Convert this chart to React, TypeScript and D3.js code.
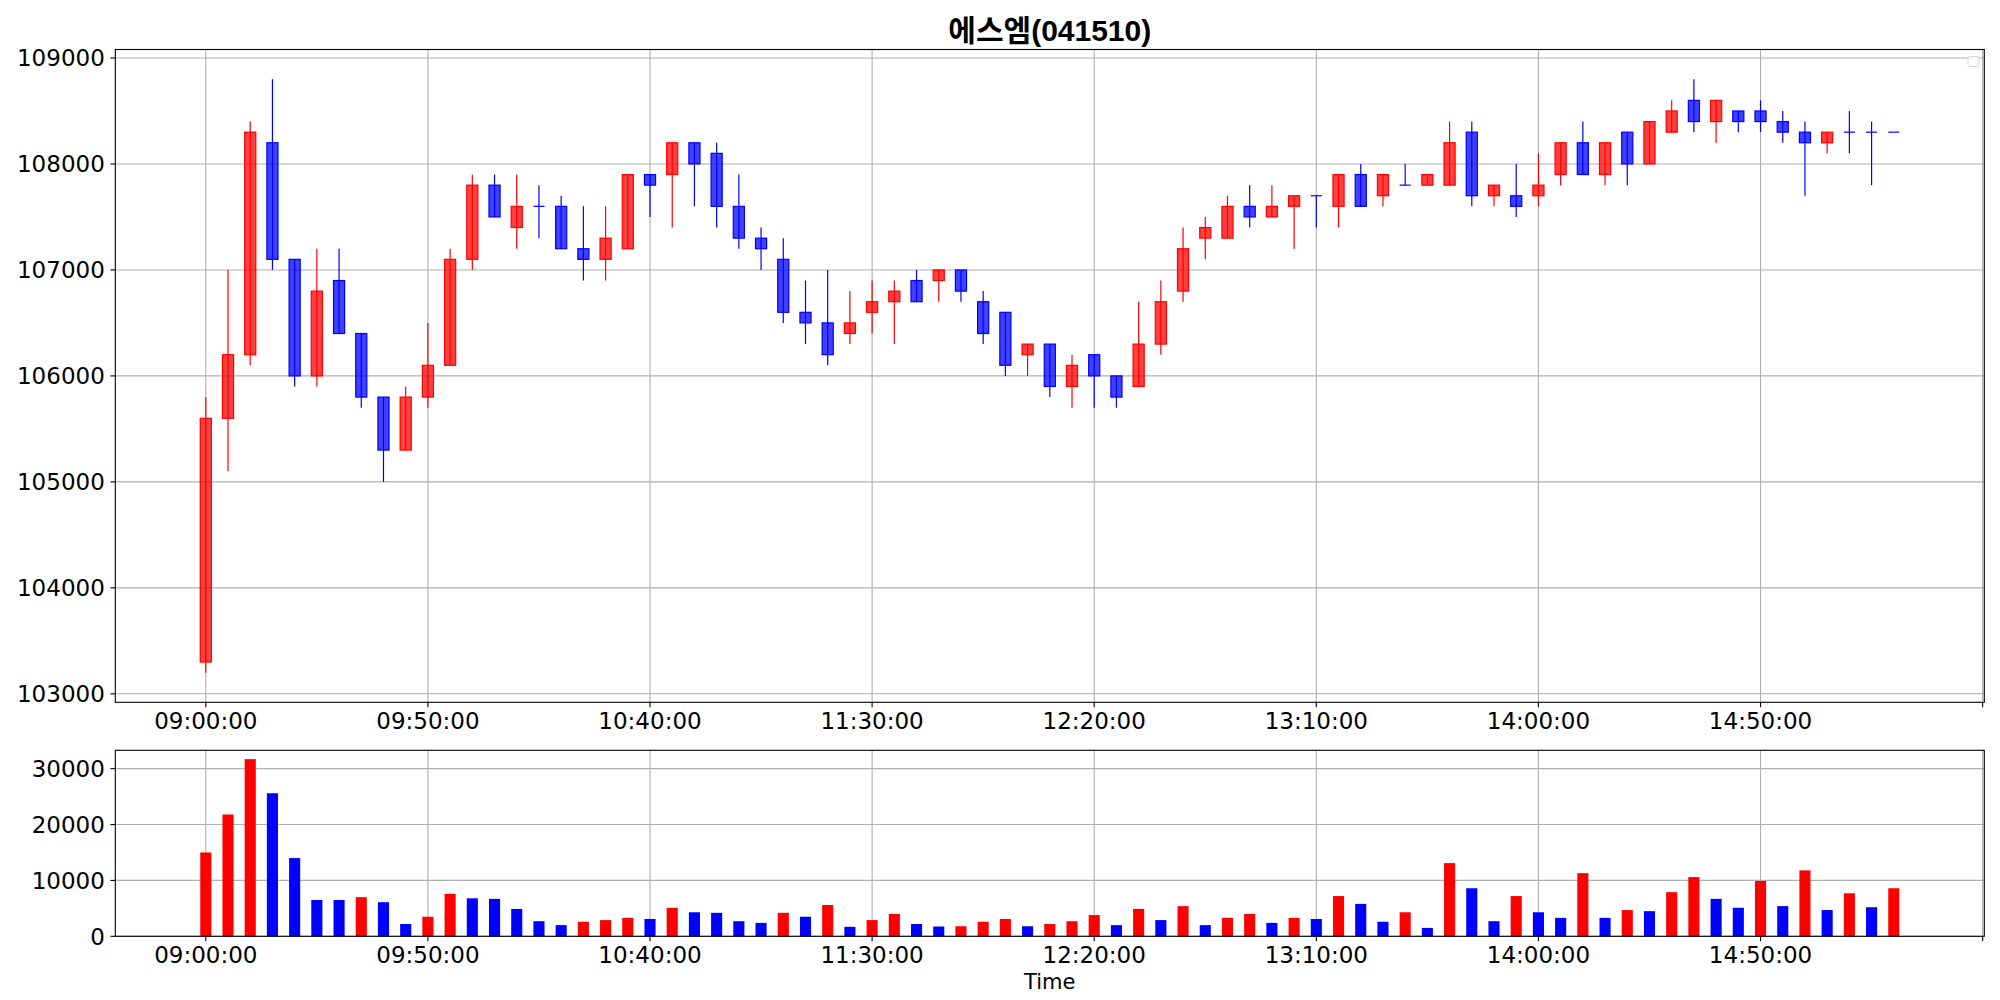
import React from 'react';
import * as d3 from 'd3';

const title = '에스엠(041510)';
const xLabel = 'Time';

const times = [
  '09:00','09:05','09:10','09:15','09:20','09:25','09:30','09:35','09:40','09:45',
  '09:50','09:55','10:00','10:05','10:10','10:15','10:20','10:25','10:30','10:35',
  '10:40','10:45','10:50','10:55','11:00','11:05','11:10','11:15','11:20','11:25',
  '11:30','11:35','11:40','11:45','11:50','11:55','12:00','12:05','12:10','12:15',
  '12:20','12:25','12:30','12:35','12:40','12:45','12:50','12:55','13:00','13:05',
  '13:10','13:15','13:20','13:25','13:30','13:35','13:40','13:45','13:50','13:55',
  '14:00','14:05','14:10','14:15','14:20','14:25','14:30','14:35','14:40','14:45',
  '14:50','14:55','15:00','15:05','15:10','15:15','15:20',
];

const opens = [
  103300,105600,106200,108200,107100,106000,106900,106400,105800,105300,
  105800,106100,107100,107800,107400,107600,107600,107200,107100,107200,
  107900,107900,108200,108100,107600,107300,107100,106600,106500,106400,
  106600,106700,106900,106900,107000,106700,106600,106200,106300,105900,
  106200,106000,105900,106300,106800,107300,107300,107600,107500,107600,
  107700,107600,107900,107700,107800,107800,107800,108300,107700,107700,
  107700,107900,108200,107900,108300,108000,108300,108600,108400,108500,
  108500,108400,108300,108200,108300,108300,108300,
];
const highs = [
  105800,107000,108400,108800,107100,107200,107200,106400,105800,105900,
  106500,107200,107900,107900,107900,107800,107700,107600,107600,107900,
  107900,108200,108200,108200,107900,107400,107300,106900,107000,106800,
  106900,106900,107000,107000,107000,106800,106600,106300,106300,106200,
  106200,106000,106700,106900,107400,107500,107700,107800,107800,107700,
  107700,107900,108000,107900,108000,107900,108400,108400,107800,108000,
  108100,108200,108400,108200,108300,108400,108600,108800,108600,108500,
  108600,108500,108400,108300,108500,108400,108300,
];
const lows = [
  103200,105100,106100,107000,105900,105900,106400,105700,105000,105300,
  105700,106100,107000,107500,107200,107300,107200,106900,106900,107200,
  107500,107400,107600,107400,107200,107000,106500,106300,106100,106300,
  106400,106300,106700,106700,106700,106300,106000,106000,105800,105700,
  105700,105700,105900,106200,106700,107100,107300,107400,107500,107200,
  107400,107400,107600,107600,107800,107800,107800,107600,107600,107500,
  107600,107800,107900,107800,107800,108000,108300,108300,108200,108300,
  108300,108200,107700,108100,108100,107800,108300,
];
const closes = [
  105600,106200,108300,107100,106000,106800,106400,105800,105300,105800,
  106100,107100,107800,107500,107600,107600,107200,107100,107300,107900,
  107800,108200,108000,107600,107300,107200,106600,106500,106200,106500,
  106700,106800,106700,107000,106800,106400,106100,106300,105900,106100,
  106000,105800,106300,106700,107200,107400,107600,107500,107600,107700,
  107700,107900,107600,107900,107800,107900,108200,107700,107800,107600,
  107800,108200,107900,108200,108000,108400,108500,108400,108600,108400,
  108400,108300,108200,108300,108300,108300,108300,
];
const volumes = [
  15000,21800,31700,25600,14000,6500,6500,7000,6100,2200,
  3500,7600,6800,6700,4900,2700,2000,2600,2900,3300,
  3100,5100,4300,4200,2700,2400,4200,3500,5600,1700,
  2900,4000,2200,1750,1800,2600,3100,1800,2200,2700,
  3800,2000,4900,2900,5400,2000,3300,4000,2400,3300,
  3100,7200,5800,2600,4300,1500,13100,8600,2700,7200,
  4300,3300,11300,3300,4700,4500,7900,10600,6700,5100,
  9900,5400,11800,4700,7700,5200,8600,
];

const priceTicks = [103000, 104000, 105000, 106000, 107000, 108000, 109000];
const volumeTicks = [0, 10000, 20000, 30000];
const xTickTimes = ['09:00','09:50','10:40','11:30','12:20','13:10','14:00','14:50','15:40'];
const xTickLabels = ['09:00:00','09:50:00','10:40:00','11:30:00','12:20:00','13:10:00','14:00:00','14:50:00',''];

const UP = '#ff0000';
const DOWN = '#0000ff';
const GRID = '#b0b0b0';
const FONT = 'DejaVu Sans, sans-serif';
const TICK_FS = 23;

function toDate(s: string) {
  const [h, m] = s.split(':').map(Number);
  return new Date(2020, 0, 2, h, m, 0);
}

export default function App() {
  const W = 2000, H = 1000;
  const left = 115.3, right = 1984.3;
  const pTop = 49.5, pBot = 702.3;
  const vTop = 750.3, vBot = 936.3;

  const dates = times.map(toDate);
  const step = 5 * 60 * 1000;
  const bw = 0.5 * step;
  const tmin = +dates[0] - bw / 2;
  const tmax = +dates[dates.length - 1] + bw / 2;
  const pad = 0.05 * (tmax - tmin);
  const x = d3.scaleTime().domain([new Date(tmin - pad), new Date(tmax + pad)]).range([left, right]);
  const pxW = x(new Date(+dates[0] + bw)) - x(dates[0]);

  const lo = d3.min(lows)!, hi = d3.max(highs)!;
  const r = hi - lo;
  const y = d3.scaleLinear().domain([lo - 0.05 * r, hi + 0.05 * r]).range([pBot, pTop]);
  const vy = d3.scaleLinear().domain([0, d3.max(volumes)! * 1.05]).range([vBot, vTop]);

  const tickDates = xTickTimes.map(toDate);

  const xGrid = (top: number, bot: number) =>
    tickDates.map((d, i) => (
      <line key={'xg' + i} x1={x(d)} x2={x(d)} y1={top} y2={bot} stroke={GRID} strokeWidth={1.1} />
    ));
  const xTicks = (bot: number) =>
    tickDates.map((d, i) => (
      <g key={'xt' + i}>
        <line x1={x(d)} x2={x(d)} y1={bot} y2={bot + 4.9} stroke="#000" strokeWidth={1.1} />
        {xTickLabels[i] && (
          <text x={x(d)} y={bot + 26.5} textAnchor="middle" fontSize={TICK_FS} fontFamily={FONT} fill="#000">
            {xTickLabels[i]}
          </text>
        )}
      </g>
    ));

  return (
    <svg width={W} height={H} style={{ position: 'fixed', left: 0, top: 0, background: '#fff' }}>
      <rect x={0} y={0} width={W} height={H} fill="#fff" />
      <text x={(left + right) / 2} y={40.5} textAnchor="middle" fontSize={30} fontWeight="bold"
        fontFamily='"Liberation Sans", "Noto Sans CJK KR", sans-serif' fill="#000">{title}</text>

      {/* price panel */}
      <g>
        {priceTicks.map((t) => (
          <line key={'pg' + t} x1={left} x2={right} y1={y(t)} y2={y(t)} stroke={GRID} strokeWidth={1.1} />
        ))}
        {xGrid(pTop, pBot)}
        {dates.map((d, i) => {
          const up = closes[i] > opens[i];
          const c = up ? UP : DOWN;
          const cx = x(d);
          const yt = y(Math.max(opens[i], closes[i]));
          const yb = y(Math.min(opens[i], closes[i]));
          return (
            <g key={'c' + i}>
              {highs[i] !== lows[i] && (
                <line x1={cx} x2={cx} y1={y(highs[i])} y2={y(lows[i])} stroke={c} strokeWidth={1.2} />
              )}
              {opens[i] === closes[i] ? (
                <line x1={cx - pxW / 2} x2={cx + pxW / 2} y1={yt} y2={yt} stroke={c} strokeWidth={1.2} />
              ) : (
                <rect x={cx - pxW / 2} y={yt} width={pxW} height={yb - yt} fill={c} fillOpacity={0.75}
                  stroke={c} strokeWidth={1.2} />
              )}
            </g>
          );
        })}
        <rect x={left} y={pTop} width={right - left} height={pBot - pTop} fill="none" stroke="#000" strokeWidth={1.1} />
        {priceTicks.map((t) => (
          <g key={'pt' + t}>
            <line x1={left - 4.9} x2={left} y1={y(t)} y2={y(t)} stroke="#000" strokeWidth={1.1} />
            <text x={left - 10.5} y={y(t)} dy="0.36em" textAnchor="end" fontSize={TICK_FS} fontFamily={FONT} fill="#000">{t}</text>
          </g>
        ))}
        {xTicks(pBot)}
        <rect x={1968} y={56.5} width={11} height={10} rx={2} fill="#fff" stroke="#d5d5d5" strokeWidth={1} />
      </g>

      {/* volume panel */}
      <g>
        {volumeTicks.map((t) => (
          <line key={'vg' + t} x1={left} x2={right} y1={vy(t)} y2={vy(t)} stroke={GRID} strokeWidth={1.1} />
        ))}
        {xGrid(vTop, vBot)}
        {dates.map((d, i) => {
          const up = i === 0 || volumes[i] > volumes[i - 1];
          return (
            <rect key={'v' + i} x={x(d) - pxW / 2} y={vy(volumes[i])} width={pxW} height={vBot - vy(volumes[i])}
              fill={up ? UP : DOWN} />
          );
        })}
        <rect x={left} y={vTop} width={right - left} height={vBot - vTop} fill="none" stroke="#000" strokeWidth={1.1} />
        {volumeTicks.map((t) => (
          <g key={'vt' + t}>
            <line x1={left - 4.9} x2={left} y1={vy(t)} y2={vy(t)} stroke="#000" strokeWidth={1.1} />
            <text x={left - 10.5} y={vy(t)} dy="0.36em" textAnchor="end" fontSize={TICK_FS} fontFamily={FONT} fill="#000">{t}</text>
          </g>
        ))}
        {xTicks(vBot)}
        <text x={(left + right) / 2} y={989} textAnchor="middle" fontSize={21} fontFamily={FONT} fill="#000">{xLabel}</text>
      </g>
    </svg>
  );
}
